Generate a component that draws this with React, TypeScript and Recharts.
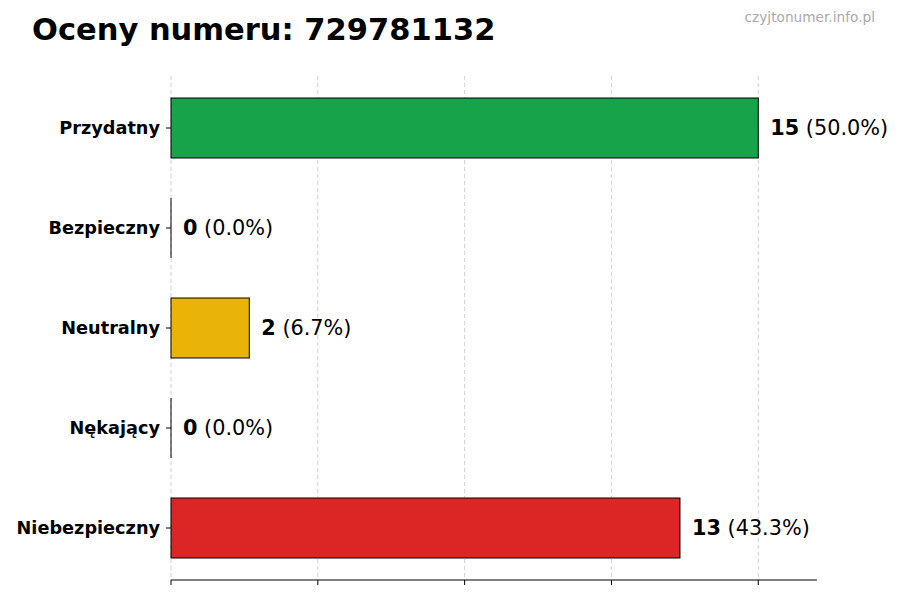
import { BarChart, Bar, XAxis, YAxis, CartesianGrid, Cell, LabelList } from 'recharts'

const categories = ['Przydatny', 'Bezpieczny', 'Neutralny', 'Nękający', 'Niebezpieczny']
const counts = [15, 0, 2, 0, 13]
const colors = ['#17a34a', '#6b7280', '#eab308', '#f97316', '#dc2626']
const xTicks = [0, 3.75, 7.5, 11.25, 15]
const xMax = 16.5

const total = counts.reduce((a, b) => a + b, 0)
const data = categories.map((name, i) => ({
  name,
  value: counts[i],
  pct: total ? (counts[i] / total) * 100 : 0,
}))

const FONT = '"DejaVu Sans", sans-serif'

function BarShape(props: any) {
  const { x, y, width, height, fill } = props
  if (!width || width <= 0) {
    return <line x1={x} x2={x} y1={y} y2={y + height} stroke="#000" strokeWidth={1} />
  }
  return <rect x={x} y={y} width={width} height={height} fill={fill} stroke="#000" strokeWidth={1} />
}

function ValueLabel(props: any) {
  const { x, y, width, height, index } = props
  const d = data[index]
  return (
    <text x={x + width + 12} y={y + height / 2} dominantBaseline="central" fontSize={20.8} fontFamily={FONT} fill="#000">
      <tspan fontWeight="bold">{d.value}</tspan>
      <tspan> ({d.pct.toFixed(1)}%)</tspan>
    </text>
  )
}

const NoTick = () => <g />

// grid only at the tick values, not at the right edge of the plot
const gridX = ({ xAxis, offset }: any) =>
  xTicks.map((t) =>
    xAxis && typeof xAxis.scale === 'function'
      ? xAxis.scale(t)
      : offset.left + (t / xMax) * offset.width
  )

export default function App() {
  return (
    <div style={{ position: 'absolute', left: 0, top: 0, width: 900, height: 600, background: '#fff', fontFamily: FONT }}>
      <div style={{ position: 'absolute', left: 32, top: 12, fontSize: 30.5, fontWeight: 'bold', color: '#000', whiteSpace: 'nowrap' }}>
        Oceny numeru: 729781132
      </div>
      <div style={{ position: 'absolute', right: 25, top: 9, fontSize: 13.7, color: '#aaa' }}>
        czyjtonumer.info.pl
      </div>
      <BarChart
        width={900}
        height={600}
        data={data}
        layout="vertical"
        margin={{ top: 76, right: 83, bottom: 0, left: 0 }}
      >
        <CartesianGrid horizontal={false} stroke="#d0d0d0" strokeDasharray="4 3" verticalCoordinatesGenerator={gridX} />
        <XAxis
          type="number"
          domain={[0, xMax]}
          ticks={xTicks}
          tick={NoTick}
          tickSize={5}
          height={20}
          axisLine={{ stroke: '#000' }}
          tickLine={{ stroke: '#000' }}
        />
        <YAxis
          type="category"
          dataKey="name"
          width={171}
          padding={{ top: 2, bottom: 2 }}
          axisLine={false}
          tickSize={5}
          tickMargin={6}
          tickLine={{ stroke: '#000' }}
          tick={{ fontSize: 17.7, fontWeight: 'bold', fill: '#000', fontFamily: FONT }}
        />
        <Bar dataKey="value" barSize={60} shape={BarShape} isAnimationActive={false}>
          {data.map((d, i) => (
            <Cell key={d.name} fill={colors[i]} />
          ))}
          <LabelList dataKey="value" content={ValueLabel} />
        </Bar>
      </BarChart>
    </div>
  )
}
